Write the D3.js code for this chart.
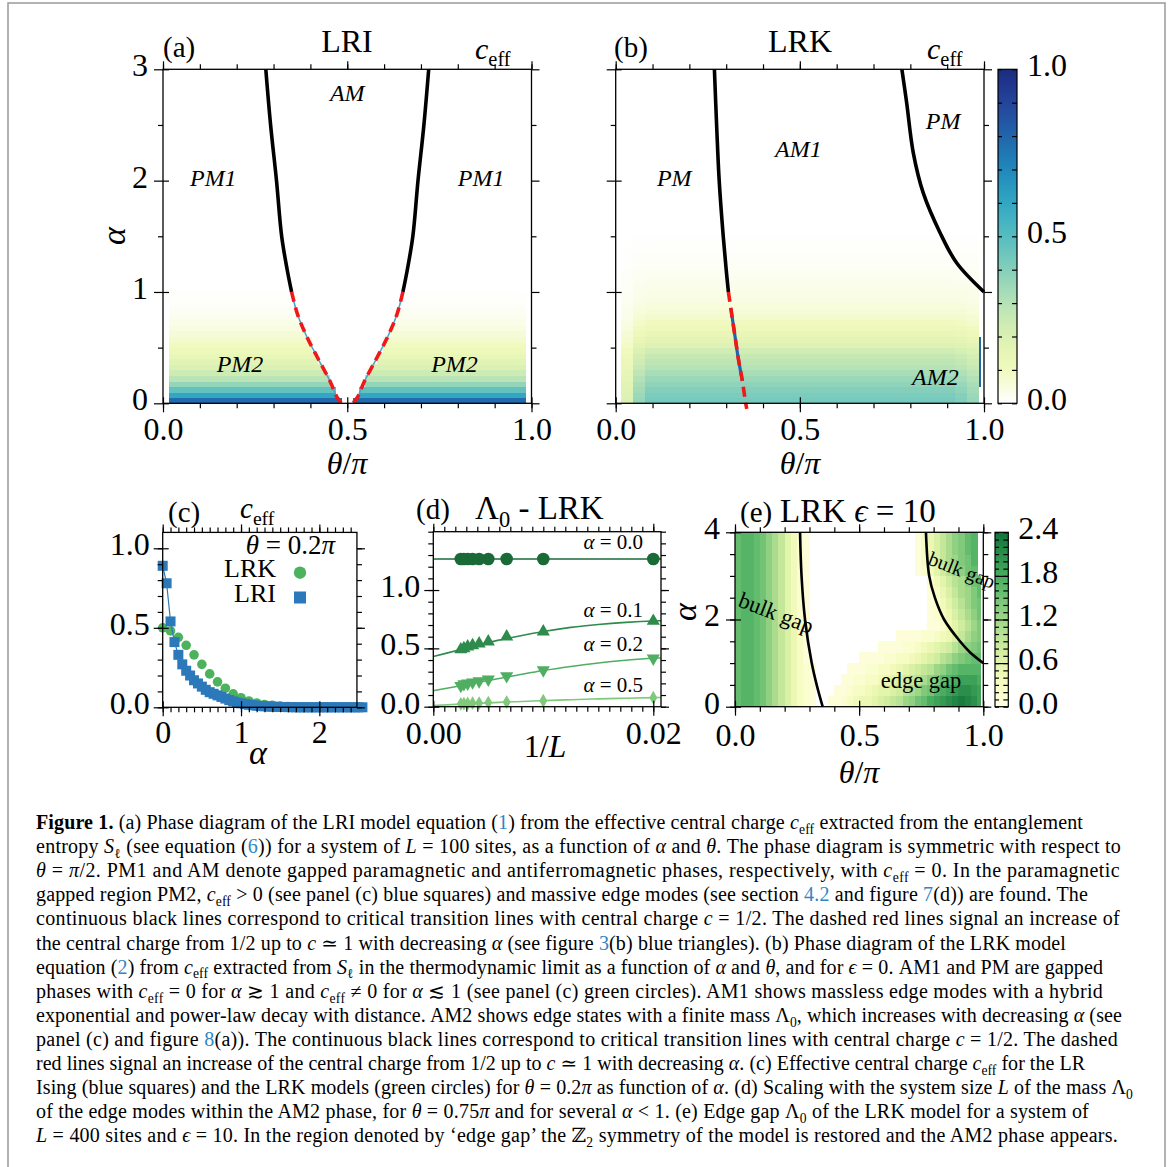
<!DOCTYPE html>
<html>
<head>
<meta charset="utf-8">
<title>Figure 1</title>
<script src="https://cdn.jsdelivr.net/npm/d3@7"></script>
<style>
  body { margin: 0; background: #fff; }
  svg text { font-family: "Liberation Serif", "DejaVu Serif", serif; fill: #000; }
</style>
</head>
<body>
<svg id="fig" width="1171" height="1167"></svg>
<script>
// ---------------- data ----------------

// (a) LRI: critical line, left branch (the right branch is its mirror about theta = pi/2)
const lriSolid  = [[0.279, 3.0], [0.292, 2.5], [0.308, 2.0], [0.322, 1.5], [0.337, 1.2], [0.349, 1.0]];
const lriDashed = [[0.349, 1.0], [0.365, 0.8], [0.390, 0.6], [0.421, 0.4], [0.453, 0.2], [0.473, 0.05], [0.485, 0.0]];
// (a) c_eff by alpha row (row lower edge), and theta where the AM region (c_eff = 0) starts
const lriRowAlpha = [0, 0.05, 0.1, 0.15, 0.2, 0.25, 0.3, 0.35, 0.4, 0.45, 0.5, 0.55, 0.6, 0.65, 0.7, 0.75, 0.8, 0.85, 0.9, 0.95];
const lriRowCeff  = [0.78, 0.60, 0.47, 0.37, 0.29, 0.24, 0.20, 0.17, 0.145, 0.12, 0.10, 0.08, 0.062, 0.048, 0.036, 0.026, 0.018, 0.012, 0.007, 0.004];
const lriRowGap   = [0.48, 0.47, 0.462, 0.455, 0.448, 0.44, 0.432, 0.425, 0.418, 0.41, 0.404, 0.398, 0.39, 0.385, 0.378, 0.372, 0.366, 0.36, 0.355, 0.35];

// (b) LRK critical lines
const lrkSolidL  = [[0.268, 3.0], [0.274, 2.5], [0.281, 2.0], [0.292, 1.5], [0.300, 1.2], [0.306, 1.0]];
const lrkDashedL = [[0.306, 1.0], [0.315, 0.8], [0.324, 0.6], [0.333, 0.4], [0.344, 0.2], [0.353, 0.0], [0.356, -0.05]];
const lrkSolidR  = [[0.777, 3.0], [0.790, 2.7], [0.808, 2.25], [0.835, 1.89], [0.881, 1.53], [0.926, 1.26], [1.0, 1.0]];
// (b) c_eff by alpha row, with a factor per theta column (edge columns are lighter)
const lrkRowAlpha = [0, 0.05, 0.1, 0.15, 0.2, 0.25, 0.3, 0.35, 0.4, 0.45, 0.5, 0.55, 0.6, 0.65, 0.7,
                     0.75, 0.8, 0.85, 0.9, 0.95, 1.0, 1.05, 1.1, 1.15, 1.2, 1.25, 1.3, 1.35, 1.4, 1.45];
const lrkRowCeff  = [0.43, 0.42, 0.40, 0.38, 0.355, 0.33, 0.30, 0.28, 0.26, 0.225, 0.19, 0.165, 0.14, 0.12, 0.095,
                     0.08, 0.065, 0.055, 0.045, 0.04, 0.035, 0.03, 0.025, 0.02, 0.016, 0.013, 0.01, 0.008, 0.006, 0.004];
const lrkColFactor = [0.45, 0.85, 1, 1, 1, 1, 1, 1, 1, 1, 1, 1, 1, 1, 1,
                      1, 1, 1, 1, 1, 1, 1, 1, 1, 1, 1, 1, 1, 0.95, 0.85];
// (b) high c_eff cells along the right edge
const lrkEdgeCells = [{t0: 0.986, t1: 0.99, a0: 0.15, a1: 0.6, v: 0.8}];

// (c) c_eff at theta = 0.2 pi
const lrkAlphaC = [0, 0.1, 0.2, 0.3, 0.4, 0.5, 0.6, 0.7, 0.8, 0.9, 1.0, 1.1, 1.2, 1.3, 1.4, 1.5, 1.6, 1.7, 1.8, 1.9, 2.0, 2.1, 2.2, 2.3, 2.4, 2.5];
const lrkCeffC  = [0.50, 0.48, 0.44, 0.39, 0.33, 0.27, 0.21, 0.16, 0.12, 0.085, 0.06, 0.04, 0.027, 0.018, 0.012, 0.008, 0.005, 0.003, 0.002, 0.001, 0, 0, 0, 0, 0, 0];
const lriAlphaC = [0, 0.05, 0.1, 0.15, 0.2, 0.25, 0.3, 0.35, 0.4, 0.45, 0.5, 0.55, 0.6, 0.65, 0.7, 0.75, 0.8, 0.85, 0.9, 0.95,
                   1.0, 1.05, 1.1, 1.15, 1.2, 1.25, 1.3, 1.35, 1.4, 1.45, 1.5, 1.55, 1.6, 1.65, 1.7, 1.75, 1.8, 1.85, 1.9, 1.95,
                   2.0, 2.05, 2.1, 2.15, 2.2, 2.25, 2.3, 2.35, 2.4, 2.45, 2.5, 2.55];
const lriCeffC  = [0.89, 0.78, 0.54, 0.41, 0.33, 0.27, 0.23, 0.20, 0.17, 0.15, 0.13, 0.11, 0.095, 0.085, 0.075, 0.065, 0.055, 0.045, 0.037, 0.03,
                   0.025, 0.02, 0.016, 0.013, 0.01, 0.008, 0.006, 0.005, 0.004, 0.003, 0.002, 0.002, 0.001, 0.001, 0, 0, 0, 0, 0, 0,
                   0, 0, 0, 0, 0, 0, 0, 0, 0, 0, 0, 0];

// (d) Lambda_0 vs 1/L at theta = 0.75 pi
const dInvL  = [0.0025, 0.00278, 0.003125, 0.00357, 0.004167, 0.005, 0.00667, 0.01, 0.02];
const lam00  = [1.266, 1.266, 1.266, 1.266, 1.266, 1.266, 1.266, 1.266, 1.266];
const lam01  = [0.49, 0.50, 0.515, 0.525, 0.54, 0.557, 0.60, 0.643, 0.734];
const lam02  = [0.18, 0.195, 0.20, 0.21, 0.22, 0.235, 0.263, 0.314, 0.415];
const lam05  = [0.025, 0.027, 0.028, 0.03, 0.031, 0.035, 0.04, 0.051, 0.077];
const fitX   = [0, 0.0025, 0.005, 0.0075, 0.01, 0.0125, 0.015, 0.0175, 0.02, 0.0207];
const fit00  = [1.266, 1.266, 1.266, 1.266, 1.266, 1.266, 1.266, 1.266, 1.266, 1.266];
const fit01  = [0.43, 0.49, 0.55, 0.60, 0.645, 0.68, 0.705, 0.723, 0.735, 0.737];
const fit02  = [0.137, 0.18, 0.225, 0.268, 0.31, 0.345, 0.375, 0.398, 0.415, 0.418];
const fit05  = [0.01, 0.022, 0.033, 0.043, 0.052, 0.06, 0.067, 0.073, 0.078, 0.079];
const dSeries = ["α = 0.0", "α = 0.1", "α = 0.2", "α = 0.5"];

// (e) LRK edge gap, eps = 10, rows alpha 0..4 (step 0.25), 40 theta columns, in units of 0.1
const gapE = [
  [16,17,17,16,15,13,11,9,7,5,3,2,1, 0,0,1,1,2,3,4,5,5,6,7,8,9,10,12,13,15,16,18,19,20,21,22,23,22,21,19],
  [16,17,17,16,15,13,11,9,7,5,3,2,1, 0,0,0,1,1,2,3,3,4,5,6,6,7,8,10,11,12,14,15,17,18,19,20,21,21,20,19],
  [16,17,17,16,15,13,11,9,7,5,3,2,1, 0,0,0,0,1,1,2,2,3,3,4,5,6,7,8,9,10,11,13,14,16,17,18,19,19,19,18],
  [16,17,17,16,15,13,11,9,7,5,3,2,1, 0,0,0,0,0,1,1,1,2,2,3,3,4,5,6,7,8,9,10,12,13,15,16,17,17,17,17],
  [16,17,17,16,15,13,11,9,7,5,3,1,0, 0,0,0,0,0,0,0,1,1,1,1,2,2,3,3,4,5,6,7,8,10,11,13,14,15,16,16],
  [16,17,17,16,15,13,11,9,7,5,3,1,0, 0,0,0,0,0,0,0,0,0,0,1,1,1,1,2,2,3,4,5,6,7,8,10,12,13,14,15],
  [16,17,17,16,15,13,11,9,7,5,3,1,0, 0,0,0,0,0,0,0,0,0,0,0,0,0,1,1,1,1,2,2,3,4,5,7,9,11,13,14],
  [16,17,17,16,15,13,11,9,7,5,3,1,0, 0,0,0,0,0,0,0,0,0,0,0,0,0,0,0,0,0,0,1,1,2,4,6,8,10,12,14],
  [16,17,17,16,15,13,11,9,6,4,2,1,0, 0,0,0,0,0,0,0,0,0,0,0,0,0,0,0,0,0,0,1,2,3,5,7,9,11,13,15],
  [16,17,17,16,15,13,11,9,6,4,2,1,0, 0,0,0,0,0,0,0,0,0,0,0,0,0,0,0,0,0,0,1,2,4,6,8,10,12,14,15],
  [16,17,17,16,15,13,11,9,6,4,2,1,0, 0,0,0,0,0,0,0,0,0,0,0,0,0,0,0,0,0,0,1,3,5,7,9,11,12,14,16],
  [16,17,17,16,15,13,11,9,6,4,2,1,0, 0,0,0,0,0,0,0,0,0,0,0,0,0,0,0,0,0,0,2,4,6,8,10,11,13,15,16],
  [16,17,17,16,15,13,11,9,6,4,2,1,0, 0,0,0,0,0,0,0,0,0,0,0,0,0,0,0,0,1,2,4,6,8,10,12,13,15,16],
  [16,17,17,16,15,13,11,9,6,4,2,1,0, 0,0,0,0,0,0,0,0,0,0,0,0,0,0,0,0,1,3,5,7,9,11,12,14,15,17],
  [16,17,17,16,15,13,11,9,6,4,2,1,0, 0,0,0,0,0,0,0,0,0,0,0,0,0,0,0,0,1,3,5,7,9,11,13,14,16,17],
  [16,17,17,16,15,13,11,9,6,4,2,1,0, 0,0,0,0,0,0,0,0,0,0,0,0,0,0,0,0,1,3,5,7,9,11,13,14,16,17]
];
const eSolidL = [[0.262, 4.0], [0.268, 3.0], [0.282, 2.0], [0.309, 1.0], [0.329, 0.5], [0.353, 0.0]];
const eSolidR = [[0.769, 4.0], [0.782, 3.0], [0.805, 2.5], [0.842, 2.0], [0.906, 1.5], [0.946, 1.25], [1.0, 1.0]];

// caption, one entry per printed line; *x* italic, **x** bold, {x} link, ~x~ subscript
const caption = [
  "**Figure 1.** (a) Phase diagram of the LRI model equation ({1}) from the effective central charge *c*~eff~ extracted from the entanglement",
  "entropy *S*~ℓ~ (see equation ({6})) for a system of *L* = 100 sites, as a function of *α* and *θ*. The phase diagram is symmetric with respect to",
  "*θ* = *π*/2. PM1 and AM denote gapped paramagnetic and antiferromagnetic phases, respectively, with *c*~eff~ = 0. In the paramagnetic",
  "gapped region PM2, *c*~eff~ > 0 (see panel (c) blue squares) and massive edge modes (see section {4.2} and figure {7}(d)) are found. The",
  "continuous black lines correspond to critical transition lines with central charge *c* = 1/2. The dashed red lines signal an increase of",
  "the central charge from 1/2 up to *c* ≃ 1 with decreasing *α* (see figure {3}(b) blue triangles). (b) Phase diagram of the LRK model",
  "equation ({2}) from *c*~eff~ extracted from *S*~ℓ~ in the thermodynamic limit as a function of *α* and *θ*, and for *ϵ* = 0. AM1 and PM are gapped",
  "phases with *c*~eff~ = 0 for *α* ≳ 1 and *c*~eff~ ≠ 0 for *α* ≲ 1 (see panel (c) green circles). AM1 shows massless edge modes with a hybrid",
  "exponential and power-law decay with distance. AM2 shows edge states with a finite mass Λ~0~, which increases with decreasing *α* (see",
  "panel (c) and figure {8}(a)). The continuous black lines correspond to critical transition lines with central charge *c* = 1/2. The dashed",
  "red lines signal an increase of the central charge from 1/2 up to *c* ≃ 1 with decreasing *α*. (c) Effective central charge *c*~eff~ for the LR",
  "Ising (blue squares) and the LRK models (green circles) for *θ* = 0.2*π* as function of *α*. (d) Scaling with the system size *L* of the mass Λ~0~",
  "of the edge modes within the AM2 phase, for *θ* = 0.75*π* and for several *α* < 1. (e) Edge gap Λ~0~ of the LRK model for a system of",
  "*L* = 400 sites and *ϵ* = 10. In the region denoted by ‘edge gap’ the ℤ~2~ symmetry of the model is restored and the AM2 phase appears."
];
const captionRight = [1083, 1121, 1120, 1088, 1120, 1066, 1103, 1103, 1122, 1118, 1085, 1133, 1089, 1118];

// ---------------- helpers ----------------
const svg = d3.select("#fig");
const defs = svg.append("defs");
const LINK = "#2f86c6";

const FADE = 0.1;
const colA = v => v < FADE
  ? d3.interpolateRgb("#ffffff", d3.interpolateYlGnBu(FADE * 0.92))(v / FADE)
  : d3.interpolateYlGnBu(Math.min(v, 1) * 0.92);
const colE = v => d3.interpolateYlGn(Math.min(v, 2.4) / 2.4 * 0.82);

function rich(sel, str, fs) {
  const parts = str.split(/(\*\*[^*]+\*\*|\*[^*]+\*|\{[^}]+\}|~[^~]+~)/).filter(s => s);
  let shift = 0;
  parts.forEach(p => {
    const t = sel.append("tspan");
    let txt = p, sub = false;
    if (p.startsWith("**")) { txt = p.slice(2, -2); t.attr("font-weight", "bold"); }
    else if (p.startsWith("*")) { txt = p.slice(1, -1); t.attr("font-style", "italic"); }
    else if (p.startsWith("{")) { txt = p.slice(1, -1); t.attr("fill", LINK); }
    else if (p.startsWith("~")) { txt = p.slice(1, -1); sub = true; t.attr("font-size", fs * 0.68); }
    const target = sub ? fs * 0.24 : 0;
    if (target !== shift) { t.attr("dy", target - shift); shift = target; }
    t.text(txt);
  });
  return sel;
}

function label(g, x, y, str, fs, anchor, extra) {
  const t = g.append("text").attr("x", x).attr("y", y).attr("font-size", fs)
    .attr("text-anchor", anchor || "start");
  if (extra) extra(t);
  return rich(t, str, fs);
}

function axisGroup(g, fn, scale, values, size, at, fmt, pad, fs) {
  const a = fn(scale).tickValues(values).tickSizeInner(size).tickSizeOuter(0)
    .tickPadding(pad || 3).tickFormat(fmt || "");
  const gg = g.append("g").attr("transform", at).call(a);
  gg.select(".domain").remove();
  gg.selectAll("line").attr("stroke-width", 1.2);
  gg.attr("font-family", null).attr("font-size", fs || 32);
  return gg;
}

// frame with ticks on all four sides; s.box = [left, right, top, bottom]
function frame(g, x, y, s) {
  const [L, R, T, B] = s.box;
  axisGroup(g, d3.axisBottom, x, s.xMinor, 5, `translate(0,${B})`);
  axisGroup(g, d3.axisBottom, x, s.xMajor, -6, `translate(0,${B})`);
  axisGroup(g, d3.axisBottom, x, s.xMajor, 9, `translate(0,${B})`, s.xFmt, s.xPad);
  axisGroup(g, d3.axisTop, x, s.xMinor, 5, `translate(0,${T})`);
  axisGroup(g, d3.axisTop, x, s.xMajor, 8, `translate(0,${T})`);
  axisGroup(g, d3.axisLeft, y, s.yMinor, 5, `translate(${L},0)`);
  axisGroup(g, d3.axisLeft, y, s.yMajor, -6, `translate(${L},0)`);
  const yl = axisGroup(g, d3.axisLeft, y, s.yMajor, 9, `translate(${L},0)`, s.yFmt, s.yPad);
  yl.selectAll("text").attr("dy", "0.2em");
  axisGroup(g, d3.axisRight, y, s.yMinor, 5, `translate(${R},0)`);
  axisGroup(g, d3.axisRight, y, s.yMajor, 8, `translate(${R},0)`);
  g.append("rect").attr("x", L).attr("y", T).attr("width", R - L).attr("height", B - T)
    .attr("fill", "none").attr("stroke", "#000").attr("stroke-width", 1.3);
}

function colorbar(g, id, box, domain, colFn, major, minor, fmt, splitLines) {
  const [L, R, T, B] = box;
  const grad = defs.append("linearGradient").attr("id", id)
    .attr("x1", 0).attr("y1", 1).attr("x2", 0).attr("y2", 0);
  d3.range(0, 1.0001, 0.02).forEach(t => grad.append("stop").attr("offset", t)
    .attr("stop-color", colFn(domain[0] + t * (domain[1] - domain[0]))));
  const yc = d3.scaleLinear().domain(domain).range([B, T]);
  g.append("rect").attr("x", L).attr("y", T).attr("width", R - L).attr("height", B - T)
    .attr("fill", `url(#${id})`);
  axisGroup(g, d3.axisRight, yc, minor, -5, `translate(${R},0)`);
  axisGroup(g, d3.axisLeft, yc, minor, -4, `translate(${L},0)`);
  if (splitLines) axisGroup(g, d3.axisRight, yc, splitLines, -(R - L), `translate(${R},0)`);
  const lab = axisGroup(g, d3.axisRight, yc, major, 0, `translate(${R},0)`, fmt, 10);
  lab.selectAll("text").attr("dy", "0.2em");
  g.append("rect").attr("x", L).attr("y", T).attr("width", R - L).attr("height", B - T)
    .attr("fill", "none").attr("stroke", "#000").attr("stroke-width", 1.2);
}

function drawCells(g, cells, x, y, col) {
  g.append("g").attr("shape-rendering", "crispEdges")
    .selectAll("rect").data(cells).join("rect")
    .attr("x", d => x(d.t0)).attr("width", d => x(d.t1) - x(d.t0) + 0.5)
    .attr("y", d => y(d.a1)).attr("height", d => y(d.a0) - y(d.a1) + 0.5)
    .attr("fill", d => col(d.v));
}

const mirror = pts => pts.map(d => [1 - d[0], d[1]]);
function curvePath(g, x, y, pts, stroke, w, dash) {
  const line = d3.line().x(d => x(d[0])).y(d => y(d[1])).curve(d3.curveCatmullRom);
  const p = g.append("path").attr("d", line(pts)).attr("fill", "none")
    .attr("stroke", stroke).attr("stroke-width", w).attr("stroke-linecap", "butt");
  if (dash) p.attr("stroke-dasharray", dash);
  return p;
}

// figure border
svg.append("rect").attr("x", 8).attr("y", 3).attr("width", 1157).attr("height", 1200)
  .attr("fill", "none").attr("stroke", "#999").attr("stroke-width", 1.5);

// ---------------- panel (a) ----------------
const xA = d3.scaleLinear().domain([0, 1]).range([163, 531.5]);
const yA = d3.scaleLinear().domain([0, 3]).range([403.3, 69.3]);
const gA = svg.append("g");
{
  const edges = d3.range(61).map(k => 0.015 + k * 0.97 / 60);
  const cells = [];
  lriRowAlpha.forEach((a0, i) => {
    const a1 = i + 1 < lriRowAlpha.length ? lriRowAlpha[i + 1] : a0 + 0.05;
    for (let j = 0; j < 60; j++) {
      const tc = (edges[j] + edges[j + 1]) / 2;
      if (tc > lriRowGap[i] && tc < 1 - lriRowGap[i]) continue;
      cells.push({t0: edges[j], t1: edges[j + 1], a0, a1, v: lriRowCeff[i]});
    }
  });
  drawCells(gA, cells, xA, yA, colA);
  [lriDashed, mirror(lriDashed)].forEach(p => {
    curvePath(gA, xA, yA, p, "#4ba6c9", 1.6);
    curvePath(gA, xA, yA, p, "#f01818", 3.6, "10,6");
  });
  [lriSolid, mirror(lriSolid)].forEach(p => curvePath(gA, xA, yA, p, "#000", 3.6));
  frame(gA, xA, yA, {
    box: [163, 531.5, 69.3, 403.3],
    xMajor: [0, 0.5, 1], xMinor: d3.range(0, 1.01, 0.1), xFmt: d3.format(".1f"), xPad: 5,
    yMajor: [0, 1, 2, 3], yMinor: [0.5, 1.5, 2.5], yFmt: d3.format("d"), yPad: 6
  });
  [["AM", 0.5, 2.715], ["PM1", 0.1365, 1.955], ["PM1", 0.8635, 1.955], ["PM2", 0.209, 0.278], ["PM2", 0.791, 0.278]]
    .forEach(d => label(gA, xA(d[1]), yA(d[2]), "*" + d[0] + "*", 24, "middle"));
  label(gA, 163, 57, "(a)", 29);
  label(gA, 347, 52, "LRI", 32, "middle");
  label(gA, 475, 59, "*c*~eff~", 30);
  label(gA, 347, 474, "*θ*/*π*", 32, "middle");
  label(gA, 0, 0, "*α*", 34, "middle", t => t.attr("transform", "translate(125,236) rotate(-90)"));
}

// ---------------- panel (b) ----------------
const xB = d3.scaleLinear().domain([0, 1]).range([615.7, 984]);
const yB = d3.scaleLinear().domain([0, 3]).range([403.3, 69.3]);
const gB = svg.append("g");
{
  const nc = lrkColFactor.length;
  const edges = d3.range(nc + 1).map(k => 0.015 + k * 0.97 / nc);
  const cells = [];
  lrkRowAlpha.forEach((a0, i) => {
    const a1 = i + 1 < lrkRowAlpha.length ? lrkRowAlpha[i + 1] : a0 + 0.05;
    lrkColFactor.forEach((f, j) => cells.push({t0: edges[j], t1: edges[j + 1], a0, a1, v: lrkRowCeff[i] * f}));
  });
  drawCells(gB, cells.concat(lrkEdgeCells), xB, yB, colA);
  const low = lrkDashedL.filter(d => d[1] <= 0.85 && d[1] >= 0.1);
  curvePath(gB, xB, yB, [[0.313, 0.85]].concat(low), "#2166ac", 3.2);
  curvePath(gB, xB, yB, lrkDashedL, "#f01818", 3.6, "10,6");
  curvePath(gB, xB, yB, lrkSolidL, "#000", 3.6);
  curvePath(gB, xB, yB, lrkSolidR, "#000", 3.6);
  frame(gB, xB, yB, {
    box: [615.7, 984, 69.3, 403.3],
    xMajor: [0, 0.5, 1], xMinor: d3.range(0, 1.01, 0.1), xFmt: d3.format(".1f"), xPad: 5,
    yMajor: [0, 1, 2, 3], yMinor: [0.5, 1.5, 2.5], yFmt: "", yPad: 6
  });
  [["PM", 0.159, 1.955], ["AM1", 0.496, 2.21], ["PM", 0.889, 2.46], ["AM2", 0.868, 0.164]]
    .forEach(d => label(gB, xB(d[1]), yB(d[2]), "*" + d[0] + "*", 24, "middle"));
  label(gB, 614, 57, "(b)", 29);
  label(gB, 800, 52, "LRK", 32, "middle");
  label(gB, 927, 59, "*c*~eff~", 30);
  label(gB, 800, 474, "*θ*/*π*", 32, "middle");
  colorbar(gB, "cbB", [998, 1017, 69.3, 403.3], [0, 1], colA, [0, 0.5, 1],
    d3.range(0, 1.001, 0.1), d3.format(".1f"));
}

// ---------------- panel (c) ----------------
const xC = d3.scaleLinear().domain([0, 2.5]).range([162.7, 358.5]);
const yC = d3.scaleLinear().domain([0, 1.1]).range([707.3, 532.4]);
const gC = svg.append("g");
{
  const GREEN = "#4cb35c", BLUE = "#2b79ba";
  gC.append("g").selectAll("circle").data(lrkAlphaC).join("circle")
    .attr("cx", d => xC(d)).attr("cy", (d, i) => yC(lrkCeffC[i])).attr("r", 4.8).attr("fill", GREEN);
  const lri = lriAlphaC.map((a, i) => [a, lriCeffC[i]]);
  gC.append("path").attr("d", d3.line().x(d => xC(d[0])).y(d => yC(d[1]))(lri))
    .attr("fill", "none").attr("stroke", BLUE).attr("stroke-width", 1.2);
  gC.append("g").selectAll("rect").data(lri).join("rect")
    .attr("x", d => xC(d[0]) - 5).attr("y", d => yC(d[1]) - 5).attr("width", 10).attr("height", 10)
    .attr("fill", BLUE);
  frame(gC, xC, yC, {
    box: [162.7, xC(2.48), 532.4, 707.3],
    xMajor: [0, 1, 2], xMinor: d3.range(0, 2.45, 0.1), xFmt: d3.format("d"), xPad: 4,
    yMajor: [0, 0.5, 1.0], yMinor: d3.range(0, 1.05, 0.1), yFmt: d3.format(".1f"), yPad: 4
  });
  label(gC, 168, 522, "(c)", 29);
  label(gC, 240, 518, "*c*~eff~", 29);
  label(gC, 335, 554, "*θ* = 0.2*π*", 27, "end");
  label(gC, 276, 577, "LRK", 26, "end");
  label(gC, 276, 602, "LRI", 26, "end");
  gC.append("circle").attr("cx", 300).attr("cy", 572.7).attr("r", 6.2).attr("fill", GREEN);
  gC.append("rect").attr("x", 294).attr("y", 591.5).attr("width", 12).attr("height", 12).attr("fill", BLUE);
  label(gC, 258, 764, "*α*", 34, "middle");
}

// ---------------- panel (d) ----------------
const xD = d3.scaleLinear().domain([0, 0.0207]).range([433.3, 661]);
const yD = d3.scaleLinear().domain([0, 1.5]).range([706.7, 531.7]);
const gD = svg.append("g");
{
  const series = [
    {vals: lam00, fit: fit00, col: "#1a6a38", sym: d3.symbolCircle, size: 125, rot: 0},
    {vals: lam01, fit: fit01, col: "#2e8b4c", sym: d3.symbolTriangle, size: 75, rot: 0},
    {vals: lam02, fit: fit02, col: "#4fae62", sym: d3.symbolTriangle, size: 75, rot: 180},
    {vals: lam05, fit: fit05, col: "#80c97c", sym: d3.symbolDiamond, size: 55, rot: 0}
  ];
  const line = d3.line().x(d => xD(d[0])).y(d => yD(d[1])).curve(d3.curveMonotoneX);
  series.forEach(s => {
    gD.append("path").attr("d", line(fitX.map((x, i) => [x, s.fit[i]])))
      .attr("fill", "none").attr("stroke", s.col).attr("stroke-width", 1.6);
    gD.append("g").selectAll("path").data(dInvL).join("path")
      .attr("d", d3.symbol(s.sym, s.size))
      .attr("transform", (d, i) => `translate(${xD(d)},${yD(s.vals[i])}) rotate(${s.rot})`)
      .attr("fill", s.col);
  });
  frame(gD, xD, yD, {
    box: [433.3, 661, 531.7, 706.7],
    xMajor: [0, 0.02], xMinor: d3.range(0, 0.0205, 0.001), xFmt: d3.format(".2f"), xPad: 6,
    yMajor: [0, 0.5, 1.0], yMinor: d3.range(0, 1.55, 0.1), yFmt: d3.format(".1f"), yPad: 4
  });
  const labY = [1.35, 0.77, 0.48, 0.128];
  dSeries.forEach((s, i) => label(gD, 643, yD(labY[i]), s.replace("α", "*α*"), 21, "end"));
  label(gD, 416, 519, "(d)", 29);
  label(gD, 475, 519, "Λ~0~ - LRK", 33);
  label(gD, 545, 757, "1/*L*", 32, "middle");
}

// ---------------- panel (e) ----------------
const xE = d3.scaleLinear().domain([0, 1]).range([735, 983.3]);
const yE = d3.scaleLinear().domain([0, 4]).range([706.7, 532.3]);
const gE = svg.append("g");
{
  const cells = [];
  gapE.forEach((row, r) => row.forEach((v, j) => {
    if (v > 0) cells.push({t0: j * 0.025, t1: Math.min(0.99, (j + 1) * 0.025), a0: r * 0.25, a1: (r + 1) * 0.25, v: v / 10});
  }));
  drawCells(gE, cells, xE, yE, colE);
  curvePath(gE, xE, yE, eSolidL, "#000", 2.6);
  curvePath(gE, xE, yE, eSolidR, "#000", 2.6);
  frame(gE, xE, yE, {
    box: [735, 983.3, 532.3, 706.7],
    xMajor: [0, 0.5, 1], xMinor: d3.range(0, 1.01, 0.1), xFmt: d3.format(".1f"), xPad: 8,
    yMajor: [0, 2, 4], yMinor: d3.range(0, 4.01, 0.5), yFmt: d3.format("d"), yPad: 6
  });
  label(gE, 0, 0, "bulk gap", 22.5, "start", t => t.attr("transform", "translate(737,606) rotate(21)"));
  label(gE, 0, 0, "bulk gap", 20, "start", t => t.attr("transform", "translate(927,564) rotate(21)"));
  label(gE, 921, 688, "edge gap", 22.5, "middle");
  label(gE, 740, 522, "(e)", 29);
  label(gE, 780, 522, "LRK *ϵ* = 10", 33);
  label(gE, 859, 783, "*θ*/*π*", 32, "middle");
  label(gE, 0, 0, "*α*", 34, "middle", t => t.attr("transform", "translate(696,612) rotate(-90)"));
  colorbar(gE, "cbE", [995, 1008.3, 532.3, 706.7], [0, 2.4], colE, [0, 0.6, 1.2, 1.8, 2.4],
    d3.range(0, 2.401, 0.1), d3.format(".1f"), [0.6, 1.2, 1.8]);
}

// ---------------- caption ----------------
const gCap = svg.append("g");
caption.forEach((ln, i) => {
  const t = gCap.append("text").attr("x", 36).attr("y", 829 + i * 24.1).attr("font-size", 20);
  rich(t, ln, 20);
  const w = t.node().getComputedTextLength();
  const chars = ln.replace(/\*|~|\{|\}/g, "").length;
  t.attr("letter-spacing", ((captionRight[i] - 36 - w) / chars).toFixed(3));
});
</script>
</body>
</html>
